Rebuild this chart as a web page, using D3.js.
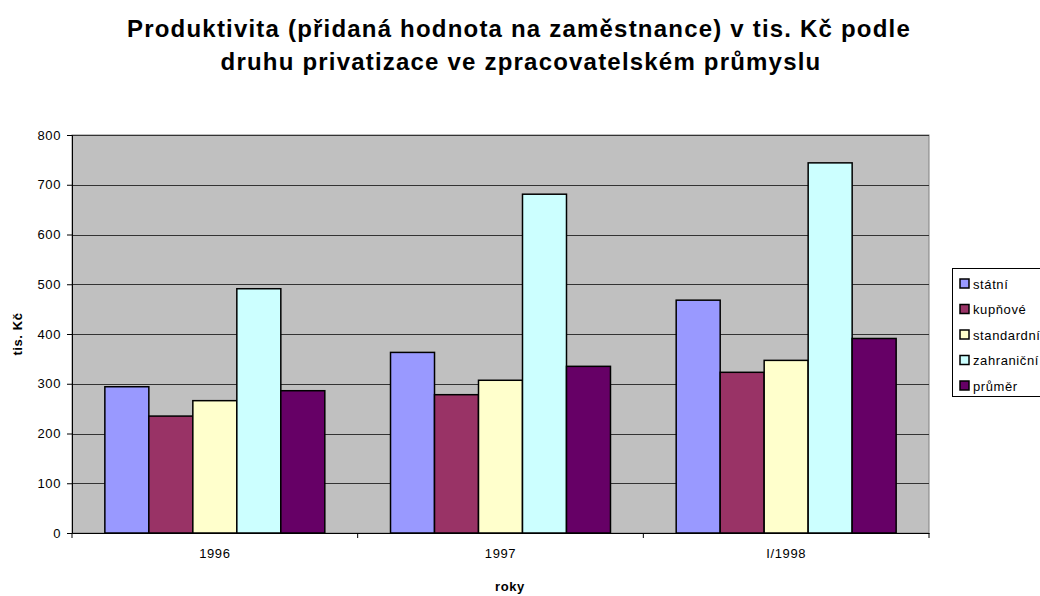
<!DOCTYPE html>
<html><head><meta charset="utf-8">
<script src="https://cdn.jsdelivr.net/npm/d3@7"></script>
<style>body{margin:0;background:#fff}svg{display:block;font-family:"Liberation Sans",Arial,sans-serif}</style>
</head><body><svg id="c" width="1040" height="596"></svg>
<script>
const categories = ["1996", "1997", "I/1998"];
const seriesNames = ["státní", "kupňové", "standardní", "zahraniční", "průměr"];
const statni = [294, 363, 468];
const kupnove = [235, 278, 323];
const standardni = [266, 307, 347];
const zahranicni = [491, 681, 744];
const prumer = [286, 335, 391];
const yTicks = [0, 100, 200, 300, 400, 500, 600, 700, 800];
const colors = ["#9999FF", "#993366", "#FFFFCC", "#CCFFFF", "#660066"];
const seriesValues = [statni, kupnove, standardni, zahranicni, prumer];

const svg = d3.select("#c");
const L = 72, R = 929, T = 135, B = 533;
const LS = "0.6px";
const y = d3.scaleLinear().domain([0, 800]).range([B, T]);
const x0 = d3.scaleBand().domain(categories).range([L, R]).padding(0);
const gap = x0.bandwidth() * 0.115;
const x1 = d3.scaleBand().domain(seriesNames).range([gap, x0.bandwidth() - gap]).padding(0);

svg.append("rect").attr("x", L).attr("y", T).attr("width", R - L).attr("height", B - T)
  .attr("fill", "#C0C0C0").attr("stroke", "#808080").attr("stroke-width", 1);

// gridlines
svg.append("g").selectAll("line").data(yTicks.filter(d => d > 0)).join("line")
  .attr("x1", L).attr("x2", R).attr("y1", d => Math.round(y(d)) + 0.5).attr("y2", d => Math.round(y(d)) + 0.5)
  .attr("stroke", "#333").attr("stroke-width", 1);

// bars
const groups = svg.append("g").selectAll("g").data(categories).join("g")
  .attr("transform", c => `translate(${x0(c)},0)`);
groups.selectAll("rect").data((c, ci) => seriesNames.map((s, si) => ({s, si, v: seriesValues[si][ci]}))).join("rect")
  .attr("x", d => x1(d.s)).attr("width", x1.bandwidth())
  .attr("y", d => y(d.v)).attr("height", d => B - y(d.v))
  .attr("fill", d => colors[d.si]).attr("stroke", "#000").attr("stroke-width", 1.5);

// y axis
const ya = svg.append("g").attr("transform", `translate(${L},0)`)
  .call(d3.axisLeft(y).tickValues(yTicks).tickSize(5).tickPadding(6));
ya.select(".domain").attr("stroke", "#000");
ya.selectAll("text").attr("font-size", 13).attr("fill", "#000").attr("letter-spacing", LS)
  .attr("font-family", "Liberation Sans, Arial, sans-serif");
ya.selectAll(".tick line").attr("stroke", "#000");

// x axis
const xa = svg.append("g").attr("transform", `translate(0,${B})`)
  .call(d3.axisBottom(x0).tickSize(0).tickPadding(16));
xa.select(".domain").attr("stroke", "#000");
xa.selectAll("text").attr("font-size", 13).attr("fill", "#000").attr("letter-spacing", LS)
  .attr("font-family", "Liberation Sans, Arial, sans-serif");
svg.append("g").selectAll("line").data(categories.map(c => x0(c)).concat([R])).join("line")
  .attr("x1", d => d).attr("x2", d => d).attr("y1", B).attr("y2", B + 5).attr("stroke", "#000");

// titles
svg.append("text").attr("x", 519).attr("y", 37).attr("text-anchor", "middle")
  .attr("font-size", 24).attr("font-weight", "bold").attr("letter-spacing", "1.2px")
  .text("Produktivita (přidaná hodnota na zaměstnance) v tis. Kč podle");
svg.append("text").attr("x", 521).attr("y", 70).attr("text-anchor", "middle")
  .attr("font-size", 24).attr("font-weight", "bold").attr("letter-spacing", "1.2px")
  .text("druhu privatizace ve zpracovatelském průmyslu");
svg.append("text").attr("x", 510).attr("y", 591).attr("text-anchor", "middle")
  .attr("font-size", 13).attr("font-weight", "bold").attr("letter-spacing", LS).text("roky");
svg.append("text").attr("transform", "translate(22,334) rotate(-90)").attr("text-anchor", "middle")
  .attr("font-size", 13).attr("font-weight", "bold").attr("letter-spacing", LS).text("tis. Kč");

// legend
const lg = svg.append("g");
lg.append("rect").attr("x", 952.5).attr("y", 268.5).attr("width", 100).attr("height", 128)
  .attr("fill", "#fff").attr("stroke", "#000");
const li = lg.selectAll("g").data(seriesNames).join("g")
  .attr("transform", (d, i) => `translate(960,${284 + i * 25.5})`);
li.append("rect").attr("x", 0).attr("y", -5).attr("width", 9).attr("height", 9)
  .attr("fill", (d, i) => colors[i]).attr("stroke", "#000").attr("stroke-width", 1.5);
li.append("text").attr("x", 13).attr("y", 4.5).attr("font-size", 13).attr("letter-spacing", LS).text(d => d);
</script></body></html>
